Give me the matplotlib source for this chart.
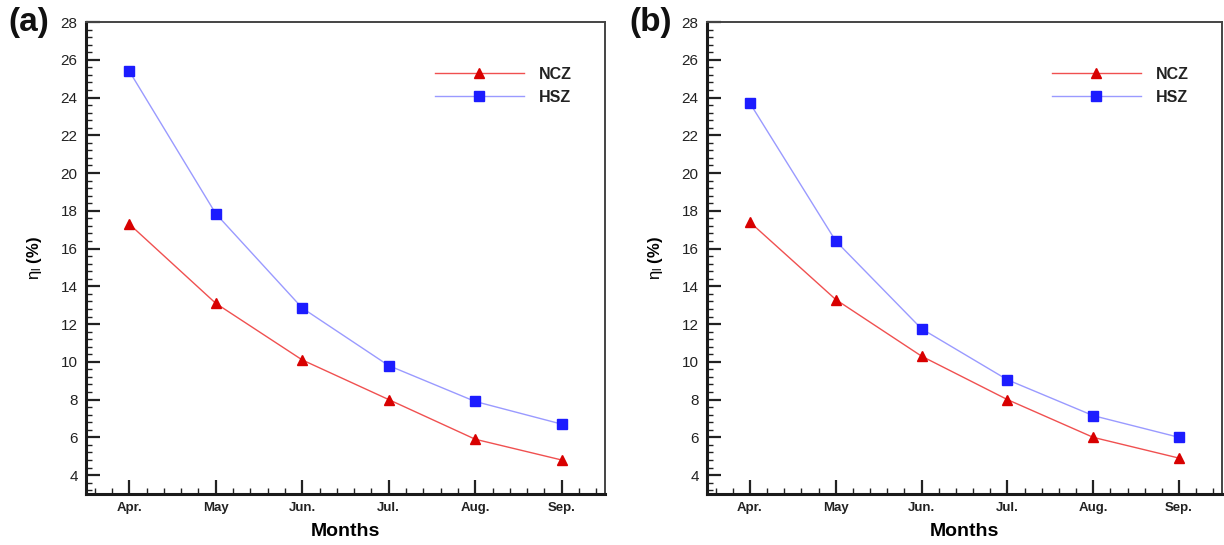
import matplotlib
matplotlib.use("Agg")
import matplotlib.pyplot as plt
from matplotlib.ticker import MultipleLocator, AutoMinorLocator

months = ["Apr.", "May", "Jun.", "Jul.", "Aug.", "Sep."]
ncz_a = [17.3, 13.1, 10.1, 8.0, 5.9, 4.8]
hsz_a = [25.4, 17.85, 12.85, 9.8, 7.9, 6.7]
ncz_b = [17.4, 13.3, 10.3, 8.0, 6.0, 4.9]
hsz_b = [23.7, 16.4, 11.75, 9.05, 7.15, 6.0]
panels = ["(a)", "(b)"]

plt.rcParams['font.family'] = ['Liberation Sans', 'DejaVu Sans']
plt.rcParams['mathtext.fontset'] = 'custom'
plt.rcParams['mathtext.rm'] = 'Liberation Sans'
plt.rcParams['mathtext.it'] = 'Liberation Sans'

fig = plt.figure(figsize=(12.24, 5.45), dpi=100)
W, H = 1224, 545
boxes = [(86, 605), (707, 1222)]
top, bot = 22, 494

for (l, r), lab, ncz, hsz in zip(boxes, panels, [ncz_a, ncz_b], [hsz_a, hsz_b]):
    ax = fig.add_axes([l / W, 1 - bot / H, (r - l) / W, (bot - top) / H])
    x = list(range(len(months)))
    ax.plot(x, ncz, color='#f05050', lw=1.0, marker='^', ms=7,
            mfc='#d80000', mec='#d80000', label='NCZ')
    ax.plot(x, hsz, color='#9a9aff', lw=1.0, marker='s', ms=6.5,
            mfc='#1c1cff', mec='#1c1cff', label='HSZ')
    ax.set_xlim(-0.5, 5.5)
    ax.set_ylim(3, 28)
    ax.set_xticks(x)
    ax.set_xticklabels(months)
    ax.yaxis.set_major_locator(MultipleLocator(2))
    ax.yaxis.set_minor_locator(AutoMinorLocator(5))
    ax.xaxis.set_minor_locator(MultipleLocator(0.2))
    ax.tick_params(which='both', direction='in', top=False, right=False,
                   colors='#222222', labelcolor='#222222')
    ax.tick_params(which='major', length=10, width=1.6, labelsize=11, pad=6)
    ax.tick_params(which='minor', length=4.5, width=1.0)
    for lbl in ax.get_xticklabels():
        lbl.set_fontweight('bold')
        lbl.set_fontsize(9.5)
    for lbl in ax.get_yticklabels():
        lbl.set_fontsize(11)
    for side in ['left', 'bottom']:
        ax.spines[side].set_linewidth(2.2)
        ax.spines[side].set_color('#1a1a1a')
    for side in ['top', 'right']:
        ax.spines[side].set_linewidth(1.4)
        ax.spines[side].set_color('#444444')
    ax.set_xlabel('Months', fontsize=14, fontweight='bold', labelpad=6)
    ax.set_ylabel(r'$\eta_l$ (%)', fontsize=12, fontweight='bold', labelpad=12)
    leg = ax.legend(loc='upper right', bbox_to_anchor=(0.963, 0.935), frameon=False,
                    handlelength=5.6, prop={'weight': 'bold', 'size': 11.5},
                    labelspacing=0.5, handletextpad=0.9)
    for t in leg.get_texts():
        t.set_color('#222222')
    fig.text((l - 78) / W, 1 - 22 / H, lab, fontsize=24, fontweight='bold',
             ha='left', va='center', color='#111111')

fig.savefig('out.png', dpi=100)
